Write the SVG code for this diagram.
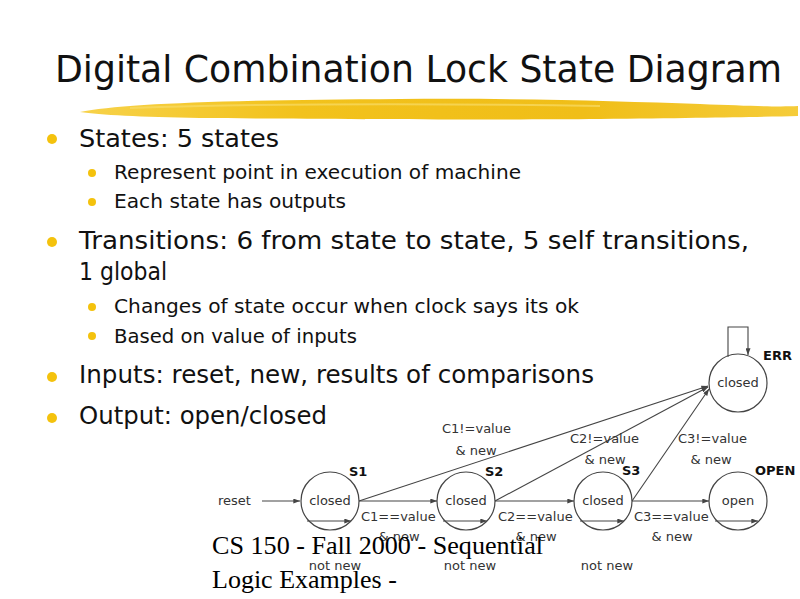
<svg xmlns="http://www.w3.org/2000/svg" width="800" height="599" viewBox="0 0 800 599">
<defs>
<style>
.title{font-family:"DejaVu Sans",sans-serif;font-size:38px;fill:#111}
.l1{font-family:"DejaVu Sans",sans-serif;font-size:24px;fill:#111}
.l2{font-family:"DejaVu Sans",sans-serif;font-size:20px;fill:#111}
.foot{font-family:"Liberation Serif","Times New Roman",serif;font-size:26px;fill:#000}
.lbl{font-family:"DejaVu Sans",sans-serif;font-size:13px;fill:#333}
.mid{text-anchor:middle}
.bold{font-family:"DejaVu Sans",sans-serif;font-size:13px;font-weight:bold;fill:#111}
.st{fill:none;stroke:#444;stroke-width:1.2}
.edge{fill:none;stroke:#444;stroke-width:1.1;marker-end:url(#ah)}
.b1{fill:#F4C20D}
</style>
<marker id="ah" viewBox="0 0 8 6" refX="8" refY="3" markerWidth="7" markerHeight="5" markerUnits="userSpaceOnUse" orient="auto">
<path d="M0,0 L8,3 L0,6 Z" fill="#444"/>
</marker>
<linearGradient id="yg" x1="0" y1="0" x2="1" y2="0">
<stop offset="0" stop-color="#F7D24A"/>
<stop offset="0.3" stop-color="#F2C21C"/>
<stop offset="0.7" stop-color="#F0BE18"/>
<stop offset="1" stop-color="#F5CC3A"/>
</linearGradient>
</defs>
<rect width="800" height="599" fill="#fff"/>
<g id="header">
<text class="title" x="55" y="82" textLength="727" lengthAdjust="spacingAndGlyphs">Digital Combination Lock State Diagram</text>
<path d="M80,112 C120,104 220,100 400,99 C520,98 620,101 700,104 C750,106 780,107 798,106 L798,116 C760,117 700,118 600,119 C480,120 300,119 200,118 C140,117 100,115 80,112 Z" fill="url(#yg)"/>
<path d="M130,108 C250,104 420,103 600,106" fill="none" stroke="#F8DC66" stroke-width="2" opacity="0.7"/>
</g>
<g id="bullets">
<circle class="b1" cx="52" cy="139" r="5"/>
<text class="l1" x="79" y="147" textLength="200" lengthAdjust="spacingAndGlyphs">States: 5 states</text>
<circle class="b1" cx="92" cy="173" r="4"/>
<text class="l2" x="114" y="179" textLength="407" lengthAdjust="spacingAndGlyphs">Represent point in execution of machine</text>
<circle class="b1" cx="92" cy="202" r="4"/>
<text class="l2" x="114" y="208" textLength="232" lengthAdjust="spacingAndGlyphs">Each state has outputs</text>
<circle class="b1" cx="52" cy="242" r="5"/>
<text class="l1" x="79" y="249" textLength="670" lengthAdjust="spacingAndGlyphs">Transitions: 6 from state to state, 5 self transitions,</text>
<text class="l1" x="79" y="280" textLength="88" lengthAdjust="spacingAndGlyphs">1 global</text>
<circle class="b1" cx="92" cy="307" r="4"/>
<text class="l2" x="114" y="313" textLength="465" lengthAdjust="spacingAndGlyphs">Changes of state occur when clock says its ok</text>
<circle class="b1" cx="92" cy="336" r="4"/>
<text class="l2" x="114" y="343" textLength="243" lengthAdjust="spacingAndGlyphs">Based on value of inputs</text>
<circle class="b1" cx="52" cy="377" r="5"/>
<text class="l1" x="79" y="383" textLength="515" lengthAdjust="spacingAndGlyphs">Inputs: reset, new, results of comparisons</text>
<circle class="b1" cx="52" cy="418" r="5"/>
<text class="l1" x="79" y="424" textLength="248" lengthAdjust="spacingAndGlyphs">Output: open/closed</text>
</g>
<g id="connectors">
<line class="edge" x1="262" y1="501" x2="300" y2="501"/>
<line class="edge" x1="359" y1="501" x2="437" y2="501"/>
<line class="edge" x1="495" y1="501" x2="574" y2="501"/>
<line class="edge" x1="632" y1="501" x2="709" y2="501"/>
<line class="edge" x1="359" y1="501" x2="708" y2="386"/>
<line class="edge" x1="495" y1="501" x2="708" y2="387"/>
<line class="edge" x1="632" y1="501" x2="709" y2="389"/>
<line class="edge" x1="307" y1="521" x2="351" y2="521"/>
<line class="edge" x1="443" y1="521" x2="487" y2="521"/>
<line class="edge" x1="580" y1="521" x2="624" y2="521"/>
<line class="edge" x1="715" y1="521" x2="758" y2="521"/>
<polyline class="edge" points="728,357 728,327 748,327 748,355"/>
<text class="lbl" x="218" y="505">reset</text>
<text class="lbl" x="361" y="521">C1==value</text>
<text class="lbl" x="498" y="521">C2==value</text>
<text class="lbl" x="634" y="521">C3==value</text>
<text class="lbl mid" x="399" y="541">&amp; new</text>
<text class="lbl mid" x="536" y="541">&amp; new</text>
<text class="lbl mid" x="672" y="541">&amp; new</text>
<text class="lbl mid" x="335" y="570">not new</text>
<text class="lbl mid" x="470" y="570">not new</text>
<text class="lbl mid" x="607" y="570">not new</text>
<text class="lbl" x="442" y="433">C1!=value</text>
<text class="lbl mid" x="476" y="455">&amp; new</text>
<text class="lbl" x="570" y="443">C2!=value</text>
<text class="lbl mid" x="605" y="464">&amp; new</text>
<text class="lbl" x="678" y="443">C3!=value</text>
<text class="lbl mid" x="711" y="464">&amp; new</text>
</g>
<g id="S1">
<circle class="st" cx="330" cy="501" r="29"/>
<text class="lbl mid" x="330" y="505">closed</text>
<text class="bold" x="349" y="476">S1</text>
</g>
<g id="S2">
<circle class="st" cx="466" cy="501" r="29"/>
<text class="lbl mid" x="466" y="505">closed</text>
<text class="bold" x="485" y="476">S2</text>
</g>
<g id="S3">
<circle class="st" cx="603" cy="501" r="29"/>
<text class="lbl mid" x="603" y="505">closed</text>
<text class="bold" x="622" y="475">S3</text>
</g>
<g id="OPEN">
<circle class="st" cx="738" cy="501" r="29"/>
<text class="lbl mid" x="738" y="505">open</text>
<text class="bold" x="755" y="475">OPEN</text>
</g>
<g id="ERR">
<circle class="st" cx="738" cy="383" r="29"/>
<text class="lbl mid" x="738" y="387">closed</text>
<text class="bold" x="763" y="360">ERR</text>
</g>
<g id="footer">
<text class="foot" x="212" y="554" textLength="331" lengthAdjust="spacingAndGlyphs">CS 150 - Fall 2000 - Sequential</text>
<text class="foot" x="212" y="588">Logic Examples -</text>
</g>
</svg>
